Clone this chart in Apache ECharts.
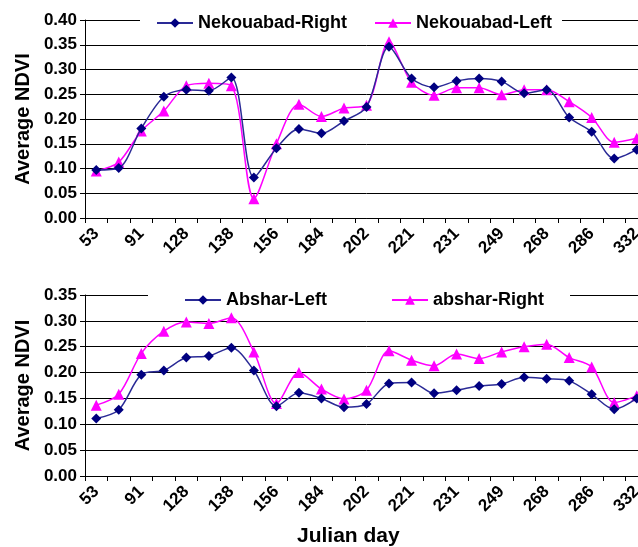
<!DOCTYPE html>
<html style="height:100%">
<head>
    <meta charset="utf-8">
    <script type="text/javascript" src="https://cdn.jsdelivr.net/npm/echarts@6/dist/echarts.min.js"></script>
    <title>Average NDVI</title>
</head>
<body style="height: 100%; margin: 0; background: #fff; overflow: hidden">
    <!-- the plot runs a little past the right edge of the picture, so the canvas is wider than the window -->
    <div id="container" style="width:648px;height:547px"></div>
    <script type="text/javascript">
    var myChart = echarts.init(document.getElementById('container'));

    // tick labels on the julian day axis (every second category)
    const dayLabels = ['53', '91', '128', '138', '156', '184', '202', '221', '231', '249', '268', '286', '332'];

    // top panel
    const nekRight = [0.097, 0.101, 0.181, 0.245, 0.259, 0.257, 0.284, 0.082, 0.141, 0.180, 0.171, 0.196, 0.224,
        0.346, 0.282, 0.264, 0.277, 0.282, 0.276, 0.252, 0.259, 0.203, 0.174, 0.120, 0.138];
    const nekLeft = [0.095, 0.113, 0.176, 0.216, 0.267, 0.272, 0.267, 0.039, 0.150, 0.230, 0.205, 0.222, 0.228,
        0.356, 0.274, 0.248, 0.263, 0.263, 0.249, 0.259, 0.259, 0.235, 0.203, 0.153, 0.161];

    // bottom panel
    const absharLeft = [0.111, 0.128, 0.196, 0.204, 0.229, 0.232, 0.248, 0.204, 0.135, 0.161, 0.150, 0.133, 0.139,
        0.179, 0.181, 0.160, 0.166, 0.174, 0.178, 0.191, 0.188, 0.184, 0.158, 0.129, 0.150];
    const absharRight = [0.137, 0.158, 0.237, 0.280, 0.298, 0.295, 0.306, 0.240, 0.140, 0.200, 0.168, 0.149, 0.166,
        0.242, 0.224, 0.213, 0.236, 0.227, 0.240, 0.250, 0.255, 0.229, 0.211, 0.142, 0.155];

    // labelled days sit on even categories, the ones between are blank
    var categories = [];
    for (var i = 0; i < dayLabels.length; i++) {
        categories.push(dayLabels[i]);
        if (i < dayLabels.length - 1) categories.push('');
    }

    var FONT = 'Liberation Sans';
    var NAVY = '#000080';
    var NAVY_LINE = '#2a2a96';
    var PINK = '#ff00ff';

    function xAxisFor(gridIndex) {
        return {
            type: 'category',
            gridIndex: gridIndex,
            data: categories,
            boundaryGap: true,
            axisLine: { lineStyle: { color: '#000', width: 1 } },
            axisTick: { show: true, interval: 0, length: 5, lineStyle: { color: '#000' } },
            axisLabel: {
                interval: 1, rotate: 45, margin: 13,
                fontFamily: FONT, fontWeight: 'bold', fontSize: 17, color: '#000'
            }
        };
    }

    function yAxisFor(gridIndex, max) {
        return {
            type: 'value',
            gridIndex: gridIndex,
            min: 0, max: max, interval: 0.05,
            name: 'Average NDVI',
            nameLocation: 'middle',
            nameRotate: 90,
            nameGap: 52,
            nameTextStyle: { fontFamily: FONT, fontWeight: 'bold', fontSize: 20, color: '#000' },
            axisLine: { show: true, lineStyle: { color: '#000', width: 1 } },
            axisTick: { show: true, length: 5, lineStyle: { color: '#000' } },
            axisLabel: {
                margin: 8,
                fontFamily: FONT, fontWeight: 'bold', fontSize: 17, color: '#000',
                formatter: function(v) { return v.toFixed(2); }
            },
            splitLine: { show: true, lineStyle: { color: '#000', width: 1 } }
        };
    }

    function lineSeries(name, data, idx, blue) {
        return {
            name: name,
            type: 'line',
            xAxisIndex: idx,
            yAxisIndex: idx,
            data: data,
            smooth: 0.3,
            symbol: blue ? 'diamond' : 'triangle',
            symbolSize: blue ? 10 : 11,
            lineStyle: { color: blue ? NAVY_LINE : PINK, width: 1.5 },
            itemStyle: { color: blue ? NAVY : PINK },
            z: blue ? 3 : 2
        };
    }

    var legendText = { fontFamily: FONT, fontWeight: 'bold', fontSize: 18, color: '#000' };

    var option = {
        animation: false,
        backgroundColor: '#fff',
        grid: [
            { left: 85, right: 0, top: 20, bottom: 329 },
            { left: 85, right: 0, top: 295, bottom: 71 }
        ],
        title: {
            text: 'Julian day',
            left: 292, top: 521,
            textStyle: { fontFamily: FONT, fontWeight: 'bold', fontSize: 21, color: '#000' }
        },
        legend: [
            {
                data: ['Nekouabad-Right', 'Nekouabad-Left'],
                left: 140, top: 12, itemWidth: 36, itemHeight: 12, itemGap: 27,
                padding: [2, 10, 2, 16],
                backgroundColor: '#fff',
                textStyle: legendText
            },
            {
                data: ['Abshar-Left', 'abshar-Right'],
                left: 148, top: 289, itemWidth: 36, itemHeight: 12, itemGap: 64,
                padding: [2, 26, 2, 36],
                backgroundColor: '#fff',
                textStyle: legendText
            }
        ],
        xAxis: [xAxisFor(0), xAxisFor(1)],
        yAxis: [yAxisFor(0, 0.4), yAxisFor(1, 0.35)],
        series: [
            lineSeries('Nekouabad-Right', nekRight, 0, true),
            lineSeries('Nekouabad-Left', nekLeft, 0, false),
            lineSeries('Abshar-Left', absharLeft, 1, true),
            lineSeries('abshar-Right', absharRight, 1, false)
        ]
    };

    myChart.setOption(option);
    </script>
</body>
</html>
